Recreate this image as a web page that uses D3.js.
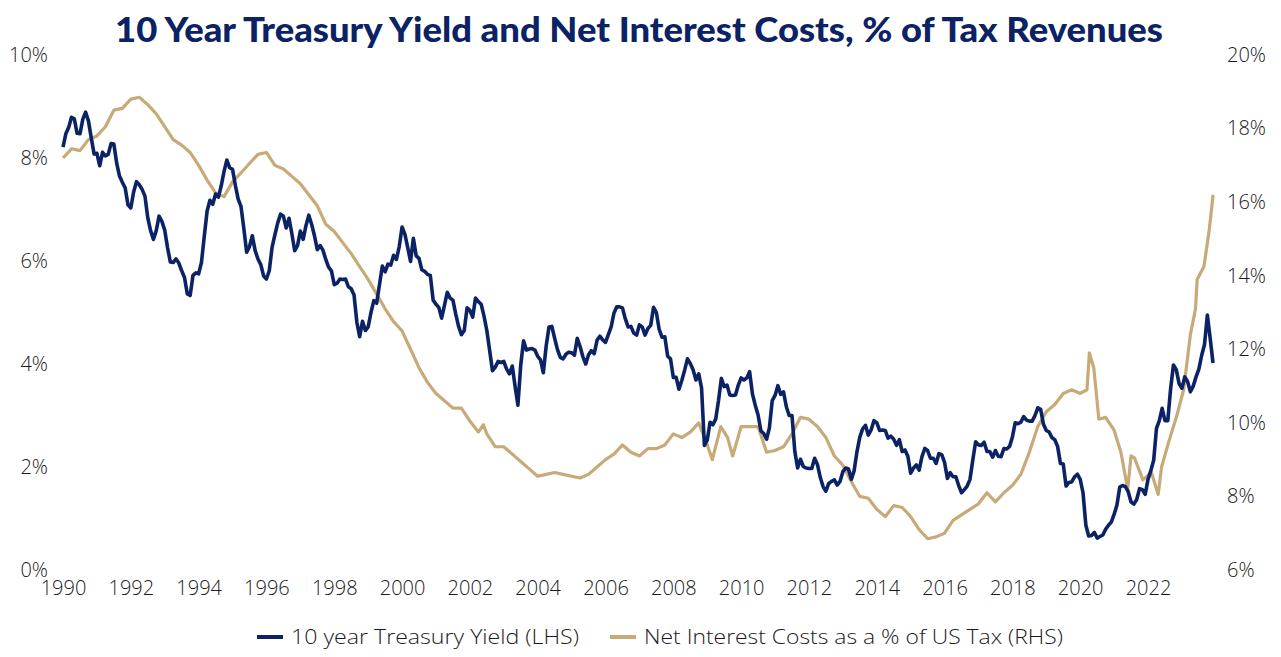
<!DOCTYPE html>
<html>
<head>
<meta charset="utf-8">
<script src="https://cdn.jsdelivr.net/npm/d3@7"></script>
<style>
	body { margin: 0; background: #fff; }
	svg text { font-family: "Open Sans", Lato, sans-serif; font-weight: 300; }
</style>
</head>
<body>
<div id="chart"></div>
<script>
const NAVY = "#0b2265";
const GOLD = "#c8aa78";

// 10 year treasury yield, monthly from Jan 1990 (%)
const yieldStart = 1990;
const yield10y = [
	8.21, 8.47, 8.59, 8.79, 8.76, 8.48, 8.47, 8.75, 8.89, 8.72, 8.39, 8.08,
	8.09, 7.85, 8.11, 8.04, 8.07, 8.28, 8.27, 7.90, 7.65, 7.53, 7.42, 7.09,
	7.03, 7.34, 7.54, 7.48, 7.39, 7.26, 6.84, 6.59, 6.42, 6.59, 6.87, 6.77,
	6.60, 6.26, 5.98, 5.97, 6.04, 5.96, 5.81, 5.68, 5.36, 5.33, 5.72, 5.77,
	5.75, 5.97, 6.48, 6.97, 7.18, 7.10, 7.30, 7.24, 7.46, 7.74, 7.96, 7.81,
	7.78, 7.47, 7.20, 7.06, 6.63, 6.17, 6.28, 6.49, 6.20, 6.04, 5.93, 5.71,
	5.65, 5.81, 6.27, 6.51, 6.74, 6.91, 6.87, 6.64, 6.83, 6.53, 6.20, 6.30,
	6.58, 6.42, 6.69, 6.89, 6.71, 6.49, 6.22, 6.30, 6.21, 6.03, 5.88, 5.81,
	5.54, 5.57, 5.65, 5.64, 5.65, 5.50, 5.46, 5.34, 4.81, 4.53, 4.83, 4.65,
	4.72, 5.00, 5.23, 5.18, 5.54, 5.90, 5.79, 5.94, 5.92, 6.11, 6.03, 6.28,
	6.66, 6.52, 6.26, 5.99, 6.44, 6.10, 6.05, 5.83, 5.80, 5.74, 5.72, 5.24,
	5.16, 5.10, 4.89, 5.14, 5.39, 5.28, 5.24, 4.97, 4.73, 4.57, 4.65, 5.09,
	5.04, 4.91, 5.28, 5.21, 5.16, 4.93, 4.65, 4.26, 3.87, 3.94, 4.05, 4.03,
	4.05, 3.90, 3.81, 3.96, 3.57, 3.20, 3.98, 4.45, 4.27, 4.29, 4.30, 4.27,
	4.15, 4.08, 3.83, 4.35, 4.72, 4.73, 4.50, 4.28, 4.13, 4.10, 4.19, 4.23,
	4.22, 4.17, 4.50, 4.34, 4.14, 4.00, 4.18, 4.26, 4.20, 4.46, 4.54, 4.47,
	4.42, 4.57, 4.72, 4.99, 5.11, 5.11, 5.09, 4.88, 4.72, 4.73, 4.60, 4.56,
	4.76, 4.72, 4.56, 4.69, 4.75, 5.10, 5.00, 4.67, 4.52, 4.53, 4.15, 4.10,
	3.74, 3.74, 3.51, 3.68, 3.88, 4.10, 4.01, 3.89, 3.69, 3.81, 3.53, 2.42,
	2.52, 2.87, 2.82, 2.93, 3.29, 3.72, 3.56, 3.59, 3.40, 3.39, 3.40, 3.59,
	3.73, 3.69, 3.73, 3.85, 3.42, 3.20, 3.01, 2.70, 2.65, 2.54, 2.76, 3.29,
	3.39, 3.58, 3.41, 3.46, 3.17, 3.00, 3.00, 2.30, 1.98, 2.15, 2.01, 1.98,
	1.97, 1.97, 2.17, 2.05, 1.80, 1.62, 1.53, 1.68, 1.72, 1.75, 1.65, 1.72,
	1.91, 1.98, 1.96, 1.76, 1.93, 2.30, 2.58, 2.74, 2.81, 2.62, 2.72, 2.90,
	2.86, 2.71, 2.72, 2.71, 2.56, 2.60, 2.54, 2.42, 2.53, 2.30, 2.33, 2.21,
	1.88, 1.98, 2.04, 1.94, 2.20, 2.36, 2.32, 2.17, 2.17, 2.07, 2.26, 2.24,
	2.09, 1.78, 1.89, 1.81, 1.81, 1.64, 1.50, 1.56, 1.63, 1.76, 2.14, 2.49,
	2.43, 2.42, 2.48, 2.30, 2.30, 2.19, 2.32, 2.21, 2.20, 2.36, 2.35, 2.40,
	2.58, 2.86, 2.84, 2.87, 2.98, 2.91, 2.89, 2.89, 3.00, 3.15, 3.12, 2.83,
	2.71, 2.68, 2.57, 2.53, 2.40, 2.07, 2.06, 1.63, 1.70, 1.71, 1.81, 1.86,
	1.76, 1.50, 0.87, 0.66, 0.67, 0.73, 0.62, 0.65, 0.68, 0.79, 0.87, 0.93,
	1.08, 1.26, 1.61, 1.64, 1.62, 1.52, 1.32, 1.28, 1.37, 1.58, 1.56, 1.47,
	1.76, 1.93, 2.13, 2.75, 2.90, 3.14, 2.90, 2.90, 3.52, 3.98, 3.89, 3.62,
	3.53, 3.75, 3.66, 3.46, 3.57, 3.75, 3.90, 4.17, 4.38, 4.95, 4.50, 4.02
];

// Net interest costs as % of US tax revenues
const nicYears = [
	1990.0, 1990.25, 1990.5, 1990.75, 1991.0, 1991.25, 1991.5, 1991.75,
	1992.0, 1992.25, 1992.5, 1992.75, 1993.0, 1993.25, 1993.5, 1993.75,
	1994.0, 1994.25, 1994.5, 1994.75, 1995.0, 1995.25, 1995.5, 1995.75,
	1996.0, 1996.25, 1996.5, 1996.75, 1997.0, 1997.25, 1997.5, 1997.75,
	1998.0, 1998.25, 1998.5, 1998.75, 1999.0, 1999.25, 1999.5, 1999.75,
	2000.0, 2000.25, 2000.5, 2000.75, 2001.0, 2001.25, 2001.5, 2001.75,
	2002.0, 2002.25, 2002.4, 2002.5, 2002.75, 2003.0, 2003.25, 2003.5, 2003.75,
	2004.0, 2004.25, 2004.5, 2004.75, 2005.0, 2005.25, 2005.5, 2005.75,
	2006.0, 2006.25, 2006.5, 2006.75, 2007.0, 2007.25, 2007.5, 2007.75,
	2008.0, 2008.25, 2008.5, 2008.75, 2009.0, 2009.15, 2009.4, 2009.6, 2009.75,
	2010.0, 2010.25, 2010.5, 2010.75, 2011.0, 2011.25, 2011.5, 2011.75,
	2012.0, 2012.25, 2012.5, 2012.75, 2013.0, 2013.25, 2013.5, 2013.75,
	2014.0, 2014.25, 2014.5, 2014.75, 2015.0, 2015.25, 2015.5, 2015.75,
	2016.0, 2016.25, 2016.5, 2016.75, 2017.0, 2017.25, 2017.5, 2017.75,
	2018.0, 2018.25, 2018.5, 2018.75, 2019.0, 2019.25, 2019.5, 2019.75,
	2020.0, 2020.2, 2020.27, 2020.4, 2020.55, 2020.75, 2021.0, 2021.2,
	2021.4, 2021.5, 2021.6, 2021.85, 2022.1, 2022.3, 2022.4, 2022.6, 2022.85,
	2023.05, 2023.25, 2023.4, 2023.45, 2023.65, 2023.8, 2023.92
];
const nicValues = [
	17.2, 17.45, 17.4, 17.7, 17.8, 18.05, 18.5, 18.55,
	18.8, 18.85, 18.65, 18.4, 18.05, 17.7, 17.55, 17.35,
	17.0, 16.6, 16.25, 16.15, 16.55, 16.8, 17.05, 17.3,
	17.35, 17.0, 16.9, 16.7, 16.5, 16.2, 15.9, 15.4,
	15.2, 14.9, 14.6, 14.25, 13.9, 13.5, 13.1, 12.75,
	12.5, 12.0, 11.5, 11.1, 10.8, 10.6, 10.4, 10.4,
	10.05, 9.75, 9.95, 9.7, 9.35, 9.35, 9.15, 8.95, 8.75,
	8.55, 8.6, 8.65, 8.6, 8.55, 8.5, 8.6, 8.8,
	9.0, 9.15, 9.4, 9.2, 9.1, 9.3, 9.3, 9.4,
	9.7, 9.6, 9.75, 10.0, 9.4, 9.0, 9.9, 9.6, 9.1,
	9.9, 9.9, 9.9, 9.2, 9.25, 9.35, 9.7, 10.15,
	10.1, 9.9, 9.6, 9.1, 8.85, 8.4, 8.0, 7.95,
	7.65, 7.45, 7.75, 7.7, 7.45, 7.1, 6.85, 6.9,
	7.0, 7.35, 7.5, 7.65, 7.8, 8.1, 7.85, 8.1,
	8.3, 8.6, 9.2, 9.9, 10.3, 10.5, 10.8, 10.9,
	10.8, 10.9, 11.9, 11.5, 10.1, 10.15, 9.8, 9.2,
	8.2, 9.1, 9.05, 8.45, 8.65, 8.05, 8.8, 9.45, 10.2,
	10.9, 12.4, 13.1, 13.9, 14.25, 15.2, 16.2
];

const xTicks = d3.range(1990, 2023, 2);
const leftTicks = [0, 2, 4, 6, 8, 10];
const rightTicks = [6, 8, 10, 12, 14, 16, 18, 20];
const seriesNames = ["10 year Treasury Yield (LHS)", "Net Interest Costs as a % of US Tax (RHS)"];

const width = 1281;
const height = 657;

const svg = d3.select("#chart").append("svg")
	.attr("width", width)
	.attr("height", height);

// scales
const x = d3.scaleLinear().domain([1990, 2023 + 11 / 12]).range([63, 1213]);
const yLeft = d3.scaleLinear().domain([0, 10]).range([570, 55]);
const yRight = d3.scaleLinear().domain([6, 20]).range([570, 55]);

// title
svg.append("text")
	.attr("x", 639)
	.attr("y", 42)
	.attr("text-anchor", "middle")
	.attr("font-size", "34px")
	.attr("textLength", 1048)
	.attr("lengthAdjust", "spacingAndGlyphs")
	.attr("fill", NAVY)
	.style("font-family", "Lato, sans-serif")
	.style("font-weight", 900)
	.text("10 Year Treasury Yield and Net Interest Costs, % of Tax Revenues");

// axes (labels only)
function cleanAxis(g) {
	g.select(".domain").remove();
	g.selectAll(".tick line").remove();
	g.selectAll(".tick text")
		.attr("font-size", "20px")
		.attr("fill", "#1a1a1a")
		.style("font-family", "'Open Sans', sans-serif");
}

svg.append("g")
	.attr("transform", "translate(48,0)")
	.call(d3.axisLeft(yLeft).tickValues(leftTicks).tickSize(0).tickPadding(0)
		.tickFormat(d => d + "%"))
	.call(cleanAxis);

svg.append("g")
	.attr("transform", "translate(1227,0)")
	.call(d3.axisRight(yRight).tickValues(rightTicks).tickSize(0).tickPadding(0)
		.tickFormat(d => d + "%"))
	.call(cleanAxis);

svg.append("g")
	.attr("transform", "translate(0,579)")
	.call(d3.axisBottom(x).tickValues(xTicks).tickSize(0).tickPadding(2)
		.tickFormat(d3.format("d")))
	.call(cleanAxis);

// lines
const yieldData = yield10y.map((v, i) => ({ t: yieldStart + i / 12, v: v }));
const nicData = nicYears.map((t, i) => ({ t: t, v: nicValues[i] }));

svg.append("path")
	.datum(nicData)
	.attr("fill", "none")
	.attr("stroke", GOLD)
	.attr("stroke-width", 3.2)
	.attr("stroke-linejoin", "round")
	.attr("d", d3.line().x(d => x(d.t)).y(d => yRight(d.v)));

svg.append("path")
	.datum(yieldData)
	.attr("fill", "none")
	.attr("stroke", NAVY)
	.attr("stroke-width", 3.6)
	.attr("stroke-linejoin", "round")
	.attr("d", d3.line().x(d => x(d.t)).y(d => yLeft(d.v)));

// legend
const legendItems = [
	{ name: seriesNames[0], color: NAVY, x: 257, len: 288 },
	{ name: seriesNames[1], color: GOLD, x: 610, len: 419 },
];
const legend = svg.append("g").attr("transform", "translate(0,637)");
legendItems.forEach(function(d) {
	legend.append("line")
		.attr("x1", d.x).attr("x2", d.x + 26)
		.attr("y1", 0).attr("y2", 0)
		.attr("stroke", d.color)
		.attr("stroke-width", 4);
	legend.append("text")
		.attr("x", d.x + 34)
		.attr("y", 7)
		.attr("font-size", "21px")
		.attr("textLength", d.len)
		.attr("lengthAdjust", "spacingAndGlyphs")
		.attr("fill", "#1a1a1a")
		.text(d.name);
});
</script>
</body>
</html>
